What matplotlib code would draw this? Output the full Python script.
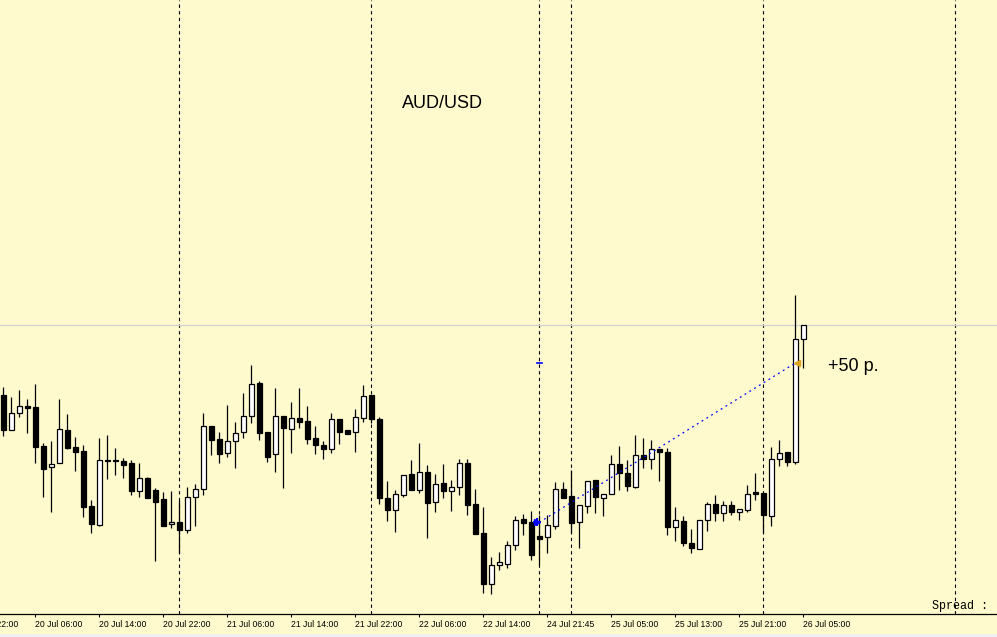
import numpy as np
import matplotlib
matplotlib.use('Agg')
import matplotlib.pyplot as plt
from matplotlib.patches import Rectangle

# AUD/USD H1 quotes, in points (price * 1e5)
open_pts = [92815, 92710, 92761, 92782, 92779, 92662, 92599, 92611, 92710, 92659,
            92647, 92482, 92425, 92620, 92620, 92617, 92611, 92527, 92566, 92530,
            92503, 92428, 92434, 92410, 92509, 92533, 92722, 92683, 92641, 92677,
            92704, 92752, 92851, 92704, 92638, 92752, 92713, 92746, 92737, 92686,
            92665, 92653, 92743, 92710, 92704, 92746, 92815, 92743, 92506, 92470,
            92515, 92578, 92530, 92584, 92494, 92551, 92527, 92539, 92611, 92488,
            92401, 92248, 92305, 92308, 92365, 92443, 92434, 92392, 92389, 92422,
            92533, 92512, 92434, 92482, 92560, 92506, 92518, 92608, 92581, 92539,
            92635, 92623, 92653, 92644, 92419, 92437, 92371, 92353, 92440, 92488,
            92461, 92485, 92464, 92470, 92524, 92521, 92452, 92623, 92644, 92614,
            92983]
high_pts = [92839, 92809, 92830, 92803, 92848, 92671, 92677, 92803, 92758, 92689,
            92665, 92500, 92686, 92695, 92656, 92626, 92620, 92611, 92569, 92536,
            92524, 92527, 92500, 92539, 92548, 92761, 92722, 92704, 92785, 92734,
            92821, 92905, 92857, 92704, 92836, 92752, 92794, 92836, 92782, 92722,
            92677, 92761, 92743, 92710, 92773, 92845, 92815, 92749, 92557, 92530,
            92575, 92620, 92671, 92605, 92578, 92608, 92560, 92623, 92623, 92533,
            92479, 92329, 92344, 92377, 92452, 92458, 92467, 92455, 92455, 92554,
            92554, 92590, 92485, 92557, 92560, 92518, 92635, 92662, 92620, 92695,
            92686, 92680, 92653, 92656, 92479, 92452, 92413, 92440, 92494, 92515,
            92497, 92497, 92473, 92545, 92581, 92521, 92659, 92680, 92644, 93115,
            93025]
low_pts = [92692, 92710, 92749, 92701, 92611, 92509, 92464, 92611, 92653, 92587,
           92449, 92401, 92422, 92563, 92575, 92566, 92515, 92509, 92506, 92317,
           92422, 92416, 92341, 92401, 92422, 92515, 92635, 92611, 92629, 92596,
           92686, 92731, 92680, 92614, 92584, 92536, 92641, 92716, 92668, 92638,
           92623, 92641, 92668, 92698, 92644, 92734, 92731, 92488, 92437, 92404,
           92509, 92530, 92521, 92386, 92464, 92506, 92467, 92515, 92455, 92398,
           92221, 92218, 92290, 92296, 92350, 92395, 92320, 92305, 92341, 92413,
           92506, 92401, 92356, 92461, 92461, 92452, 92518, 92530, 92527, 92536,
           92596, 92593, 92557, 92395, 92377, 92362, 92341, 92353, 92407, 92437,
           92437, 92455, 92440, 92464, 92500, 92401, 92422, 92602, 92602, 92608,
           92896]
close_pts = [92710, 92761, 92782, 92776, 92659, 92593, 92608, 92713, 92656, 92644,
             92479, 92428, 92620, 92617, 92617, 92605, 92527, 92566, 92506, 92494,
             92422, 92434, 92410, 92509, 92533, 92722, 92680, 92638, 92677, 92701,
             92752, 92848, 92701, 92629, 92752, 92716, 92746, 92734, 92683, 92665,
             92653, 92743, 92704, 92698, 92749, 92812, 92743, 92506, 92470, 92518,
             92575, 92530, 92584, 92491, 92548, 92527, 92539, 92611, 92485, 92398,
             92248, 92305, 92314, 92365, 92440, 92431, 92335, 92383, 92425, 92533,
             92506, 92431, 92485, 92557, 92509, 92518, 92608, 92581, 92542, 92635,
             92623, 92653, 92644, 92419, 92440, 92371, 92356, 92440, 92488, 92461,
             92485, 92464, 92473, 92518, 92518, 92455, 92623, 92641, 92614, 92983,
             93025]

tick_bars = [-4, 4, 12, 20, 28, 36, 44, 52, 60, 68, 76, 84, 92, 100]
tick_labels = ['19 Jul 22:00', '20 Jul 06:00', '20 Jul 14:00', '20 Jul 22:00',
               '21 Jul 06:00', '21 Jul 14:00', '21 Jul 22:00', '22 Jul 06:00',
               '22 Jul 14:00', '24 Jul 21:45', '25 Jul 05:00', '25 Jul 13:00',
               '25 Jul 21:00', '26 Jul 05:00']
day_separators = [22, 46, 67, 71, 95, 119]

# trade: entry / exit bar and price
entry_bar, entry_pts = 67, 92433
exit_bar, exit_pts = 99, 92911
profit_text = '+50 p.'

o = np.array(open_pts) / 1e5
h = np.array(high_pts) / 1e5
l = np.array(low_pts) / 1e5
c = np.array(close_pts) / 1e5
x = np.arange(len(o))
bid = c[-1]

bg = '#FFFACD'
lab_size = 6.2
fig = plt.figure(figsize=(9.97, 6.37), dpi=100, facecolor=bg)
ax = fig.add_axes([0, 23 / 637, 1, 614 / 637])
ax.set_facecolor(bg)

for xs in day_separators:
    ax.axvline(xs, color='black', lw=0.8, ls=(0, (3, 3)), zorder=1)

ax.axhline(bid, color='#CFCFCF', lw=0.9, zorder=1)

ax.vlines(x, l, h, color='black', lw=0.9, zorder=2)
up = c >= o
ax.bar(x[up], (c - o)[up], bottom=o[up], width=0.55,
       facecolor='white', edgecolor='black', lw=0.9, zorder=3)
ax.bar(x[~up], (o - c)[~up], bottom=c[~up], width=0.55,
       facecolor='black', edgecolor='black', lw=0.9, zorder=3)

# trade line and markers
ep, xp = entry_pts / 1e5, exit_pts / 1e5
ax.plot([entry_bar, exit_bar], [ep, xp], color='blue', lw=0.9,
        ls=(0, (1.5, 3)), zorder=4)
ax.plot(entry_bar - 0.3, ep, marker='>', color='blue', ms=4, zorder=5)
ax.plot(entry_bar - 0.3, ep, marker='+', color='blue', ms=6, mew=1.5, zorder=5)
ax.plot([entry_bar - 0.35, entry_bar + 0.35], [xp, xp], color='blue', lw=1.2, zorder=5)
ax.plot(exit_bar + 0.2, xp, marker='<', color='#DAA520', ms=4, zorder=5)
ax.text(exit_bar + 4.1, xp - 0.00012, profit_text, fontsize=13,
        family='Liberation Sans', va='center', ha='left')

for s in ['left', 'right', 'top']:
    ax.spines[s].set_visible(False)
ax.spines['bottom'].set_linewidth(0.9)
ax.set_yticks([])
ax.set_xticks(tick_bars)
ax.set_xticklabels(tick_labels, ha='left', fontsize=lab_size, family='Liberation Sans')
ax.tick_params(axis='x', direction='out', length=2.5, width=0.8, pad=2.0)
ax.set_xlim(-3.3 / 8, (997 - 3.3) / 8)
ax.set_ylim(0.92158, 0.94000)

# labels whose tick lies left of the view, cut by the figure edge
x0 = ax.get_xlim()[0]
for tb, tl in zip(tick_bars, tick_labels):
    if tb < x0:
        ax.annotate(tl, (tb, 0), xycoords=ax.get_xaxis_transform(),
                    xytext=(0, -4.5), textcoords='offset points',
                    fontsize=lab_size, family='Liberation Sans',
                    ha='left', va='top', annotation_clip=False)

fig.text(402 / 997, 1 - 103 / 637, 'AUD/USD', fontsize=13,
         family='Liberation Sans', ha='left', va='center')
fig.text(988 / 997, 1 - 606 / 637, 'Spread :', fontsize=8.5,
         family='Liberation Mono', ha='right', va='center')
fig.patches.append(Rectangle((0, 0), 1, 3 / 637, transform=fig.transFigure,
                             facecolor='#F0F0F0', edgecolor='none'))

fig.savefig('out.png', dpi=100, facecolor=bg)
